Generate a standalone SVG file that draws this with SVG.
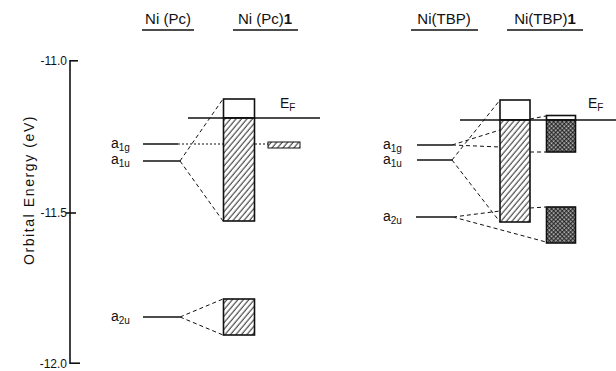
<svg xmlns="http://www.w3.org/2000/svg" width="616" height="371" viewBox="0 0 616 371">
<style>
.t{font-family:"Liberation Sans","DejaVu Sans",sans-serif;fill:#111}
.title{font-size:15px}
.ax{font-size:12px}
.lbl{font-size:14px}
.sub{font-size:10px}
.ln{stroke:#111;stroke-width:1.6;fill:none}
.box{stroke:#111;stroke-width:1.6}
.d{stroke:#111;stroke-width:1;fill:none;stroke-dasharray:4 3}
.dot{stroke:#111;stroke-width:1.2;fill:none;stroke-dasharray:2 2}
</style>
<defs>
<pattern id="hatch" width="4.2" height="4.2" patternUnits="userSpaceOnUse" patternTransform="rotate(40)">
<rect width="4.2" height="4.2" fill="#fff"/>
<line x1="1" y1="0" x2="1" y2="4.2" stroke="#111" stroke-width="0.9"/>
</pattern>
<pattern id="cross" width="3" height="3" patternUnits="userSpaceOnUse" patternTransform="rotate(45)">
<rect width="3" height="3" fill="#bbb"/>
<line x1="0.75" y1="0" x2="0.75" y2="3" stroke="#111" stroke-width="1"/>
<line x1="0" y1="0.75" x2="3" y2="0.75" stroke="#111" stroke-width="1"/>
</pattern>
</defs>
<rect width="616" height="371" fill="#fff"/>

<g id="axis">
<line class="ln" x1="70" y1="60" x2="70" y2="364"/>
<line class="ln" x1="70" y1="60.8" x2="78" y2="60.8"/>
<line class="ln" x1="66" y1="213" x2="76" y2="213"/>
<line class="ln" x1="70" y1="363.2" x2="80" y2="363.2"/>
<text class="t ax" x="67" y="65" text-anchor="end">-11.0</text>
<text class="t ax" x="67" y="217" text-anchor="end">-11.5</text>
<text class="t ax" x="67" y="368" text-anchor="end">-12.0</text>
<text class="t" font-size="14" letter-spacing="1.6" transform="translate(34,190) rotate(-90)" text-anchor="middle">Orbital Energy (eV)</text>
</g>

<g id="titles">
<text class="t title" x="168" y="24" text-anchor="middle">Ni (Pc)</text>
<line class="ln" x1="142" y1="30" x2="194" y2="30" stroke-width="1.2"/>
<text class="t title" x="265" y="24" text-anchor="middle">Ni (Pc)<tspan font-weight="bold">1</tspan></text>
<line class="ln" x1="233" y1="30" x2="298" y2="30" stroke-width="1.2"/>
<text class="t title" x="444" y="24" text-anchor="middle">Ni(TBP)</text>
<line class="ln" x1="411" y1="30" x2="478" y2="30" stroke-width="1.2"/>
<text class="t title" x="545" y="24" text-anchor="middle">Ni(TBP)<tspan font-weight="bold">1</tspan></text>
<line class="ln" x1="507" y1="30" x2="583" y2="30" stroke-width="1.2"/>
</g>

<g id="NiPc-levels">
<line class="ln" x1="143" y1="144" x2="178" y2="144"/>
<line class="ln" x1="143" y1="161" x2="180" y2="161"/>
<line class="ln" x1="143" y1="317" x2="180" y2="317"/>
<text class="t lbl" x="111" y="148">a<tspan class="sub" dy="3">1g</tspan></text>
<text class="t lbl" x="111" y="164">a<tspan class="sub" dy="3">1u</tspan></text>
<text class="t lbl" x="111" y="321">a<tspan class="sub" dy="3">2u</tspan></text>
</g>

<g id="NiPc1-bands">
<rect class="box" x="223.5" y="99" width="31" height="19" fill="#fff"/>
<rect class="box" x="223.5" y="118" width="31" height="103" fill="url(#hatch)"/>
<rect x="268" y="142" width="32" height="6" fill="url(#hatch)" stroke="#111" stroke-width="1"/>
<rect class="box" x="223.5" y="299" width="31" height="36" fill="url(#hatch)"/>
<line class="ln" x1="188" y1="118" x2="320" y2="118"/>
<text class="t lbl" x="280" y="108">E<tspan class="sub" dy="3">F</tspan></text>
</g>

<g id="NiTBP-levels">
<line class="ln" x1="417" y1="145" x2="452" y2="145"/>
<line class="ln" x1="417" y1="160" x2="452" y2="160"/>
<line class="ln" x1="416" y1="217" x2="453" y2="217"/>
<text class="t lbl" x="383" y="149">a<tspan class="sub" dy="3">1g</tspan></text>
<text class="t lbl" x="383" y="164">a<tspan class="sub" dy="3">1u</tspan></text>
<text class="t lbl" x="383" y="221">a<tspan class="sub" dy="3">2u</tspan></text>
</g>

<g id="NiTBP1-bands">
<rect class="box" x="500" y="100" width="30" height="20" fill="#fff"/>
<rect class="box" x="500" y="120" width="30" height="102" fill="url(#hatch)"/>
<rect class="box" x="546.5" y="115.5" width="29" height="4.5" fill="#fff"/>
<rect class="box" x="546.5" y="120" width="29" height="32" fill="url(#cross)"/>
<rect class="box" x="546.5" y="207" width="29" height="36" fill="url(#cross)"/>
<line class="ln" x1="460" y1="120" x2="616" y2="120"/>
<text class="t lbl" x="588" y="108">E<tspan class="sub" dy="3">F</tspan></text>
</g>

<g id="connectors">
<line class="d" x1="180" y1="161" x2="223" y2="99"/>
<line class="d" x1="180" y1="161" x2="223" y2="221"/>
<line class="dot" x1="178" y1="144" x2="223" y2="144"/>
<line class="dot" x1="255" y1="144" x2="268" y2="144"/>
<line class="d" x1="180" y1="317" x2="223" y2="299"/>
<line class="d" x1="180" y1="317" x2="223" y2="335"/>
<line class="d" x1="452" y1="160" x2="500" y2="100"/>
<line class="d" x1="452" y1="160" x2="500" y2="222"/>
<line class="d" x1="452" y1="145" x2="500" y2="130"/>
<line class="d" x1="452" y1="145" x2="500" y2="147"/>
<line class="d" x1="530" y1="119" x2="546" y2="116"/>
<line class="d" x1="530" y1="152" x2="546" y2="152"/>
<line class="d" x1="453" y1="217" x2="500" y2="211"/>
<line class="d" x1="453" y1="217" x2="546" y2="242"/>
<line class="d" x1="530" y1="208" x2="546" y2="207"/>
</g>
</svg>
